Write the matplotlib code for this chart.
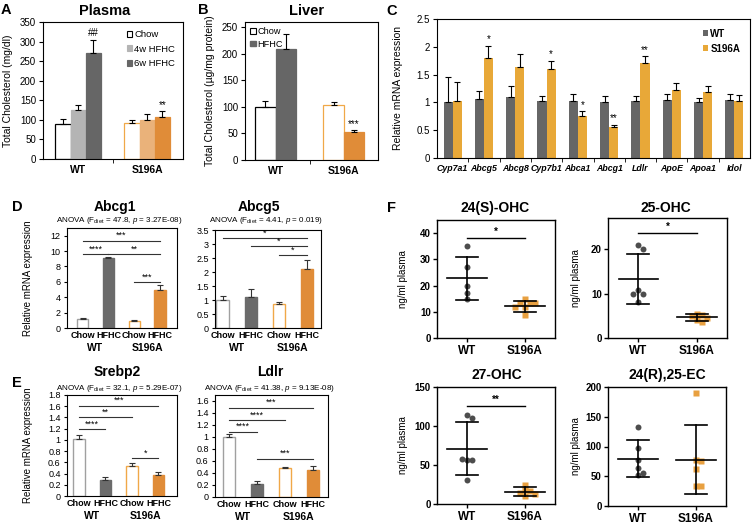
import numpy as np
import matplotlib
matplotlib.use("Agg")
import matplotlib.pyplot as plt
from matplotlib.patches import Patch
import matplotlib.transforms as mtransforms

plt.rcParams['font.family'] = ['Liberation Sans', 'DejaVu Sans']
plt.rcParams['mathtext.fontset'] = 'custom'
plt.rcParams['mathtext.rm'] = 'Liberation Sans'
plt.rcParams['mathtext.it'] = 'Liberation Sans:italic'
plt.rcParams['axes.linewidth'] = 0.8

W, H = 754, 524

# ---- A: plasma total cholesterol (mg/dl) ----
groups = ['WT', 'S196A']
plasma_diets = ['Chow', '4w HFHC', '6w HFHC']
plasma_wt = [90, 125, 272]
plasma_wt_err = [12, 14, 31]
plasma_s196a = [92, 100, 108]
plasma_s196a_err = [8, 14, 14]
plasma_marks_wt = ['', '', '##']
plasma_marks_s196a = ['', '', '**']

# ---- B: liver total cholesterol ----
liver_diets = ['Chow', 'HFHC']
liver_wt = [100, 210]
liver_wt_err = [11, 27]
liver_s196a = [104, 52]
liver_s196a_err = [5, 4]
liver_marks_s196a = ['', '***']

# ---- C: hepatic gene expression ----
genes = ['Cyp7a1', 'Abcg5', 'Abcg8', 'Cyp7b1', 'Abca1', 'Abcg1', 'Ldlr', 'ApoE', 'Apoa1', 'Idol']
gene_wt = [1.00, 1.07, 1.10, 1.02, 1.02, 1.01, 1.02, 1.05, 1.01, 1.04]
gene_wt_err = [0.46, 0.14, 0.20, 0.10, 0.13, 0.10, 0.10, 0.11, 0.07, 0.11]
gene_s196a = [1.03, 1.79, 1.63, 1.60, 0.76, 0.56, 1.70, 1.23, 1.18, 1.03]
gene_s196a_err = [0.33, 0.23, 0.24, 0.15, 0.08, 0.04, 0.13, 0.11, 0.11, 0.11]
gene_marks = ['', '*', '', '*', '*', '**', '**', '', '', '']

# ---- D/E: diet x genotype (Chow WT, HFHC WT, Chow S196A, HFHC S196A) ----
diet_labels = ['Chow', 'HFHC', 'Chow', 'HFHC']
abcg1_vals = [1.13, 9.08, 0.96, 4.98]
abcg1_err = [0.15, 0.15, 0.12, 0.6]
abcg1_sig = [(0, 3, 11.35, '***'), (0, 1, 9.6, '****'), (1, 3, 9.6, '**'), (2, 3, 6.0, '***')]
abcg5_vals = [1.01, 1.10, 0.87, 2.09]
abcg5_err = [0.12, 0.30, 0.06, 0.34]
abcg5_sig = [(0, 3, 3.2, '*'), (1, 3, 2.93, '*'), (2, 3, 2.59, '*')]
srebp2_vals = [1.01, 0.285, 0.535, 0.38]
srebp2_err = [0.08, 0.045, 0.045, 0.04]
srebp2_sig = [(0, 3, 1.61, '***'), (0, 2, 1.40, '**'), (0, 1, 1.19, '****'), (2, 3, 0.67, '*')]
ldlr_vals = [1.00, 0.22, 0.48, 0.45]
ldlr_err = [0.05, 0.04, 0.025, 0.06]
ldlr_sig = [(0, 3, 1.49, '***'), (0, 2, 1.28, '****'), (0, 1, 1.09, '****'), (1, 3, 0.64, '***')]

# ---- F: plasma oxysterols (ng/ml) ----
ohc24s_wt = [35, 27, 20, 15, 17]
ohc24s_s196a = [15, 13.5, 13.2, 13.2, 12, 12, 8.6]
ohc24s_mean = [22.8, 12.2]
ohc24s_sd = [8.2, 2.1]
ohc25_wt = [21, 20, 10.8, 10, 10, 8]
ohc25_s196a = [5.5, 5.2, 5.0, 4.5, 4.0, 3.5]
ohc25_mean = [13.3, 4.7]
ohc25_sd = [5.7, 0.8]
ohc27_wt = [114, 110, 57, 56, 58, 31]
ohc27_s196a = [25, 18, 17, 14, 13, 10]
ohc27_mean = [71, 16]
ohc27_sd = [33.5, 5.6]
ec24r_wt = [133, 98, 78, 64, 52, 55]
ec24r_s196a = [190, 78, 75, 63, 33, 33]
ec24r_mean = [79.5, 78]
ec24r_sd = [31, 58]

fig = plt.figure(figsize=(W / 100, H / 100), dpi=100)


def ax_px(l, t, r, b):
    return fig.add_axes([l / W, 1 - b / H, (r - l) / W, (b - t) / H])


def ftext(x, y, s, **kw):
    fig.text(x / W, 1 - y / H, s, ha='center', va='center', **kw)


def ylabel_at(ax, box, xpx, text, size):
    ax.set_ylabel(text, fontsize=size)
    ax.yaxis.set_label_coords((xpx - box[0]) / (box[2] - box[0]), 0.5)


def fmt(v):
    return '%g' % v


grey_dark = '#666666'
grey_light = '#b4b4b4'
orange = '#e08c38'
orange_light = '#eab27a'
orange_edge = '#f0a848'
ebar = dict(fmt='none', ecolor='black', elinewidth=0.8, capsize=2.2, capthick=0.8)

# ================= A =================
boxA = (43, 22, 183, 159)
ax = ax_px(*boxA)
w = 0.22
offs = np.array([-1, 0, 1]) * w
wt_faces = ['white', grey_light, grey_dark]
wt_edges = ['black', grey_light, grey_dark]
s_faces = ['white', orange_light, orange]
s_edges = [orange_edge, orange_light, orange]
ax.bar(0 + offs, plasma_wt, w, color=wt_faces, edgecolor=wt_edges, linewidth=0.9)
ax.bar(1 + offs, plasma_s196a, w, color=s_faces, edgecolor=s_edges, linewidth=0.9)
ax.errorbar(0 + offs, plasma_wt, yerr=[np.zeros(3), plasma_wt_err], **ebar)
ax.errorbar(1 + offs, plasma_s196a, yerr=[np.zeros(3), plasma_s196a_err], **ebar)
for i in range(3):
    ax.text(0 + offs[i], plasma_wt[i] + plasma_wt_err[i] + 6, plasma_marks_wt[i], ha='center', va='bottom', fontsize=7)
    ax.text(1 + offs[i], plasma_s196a[i] + plasma_s196a_err[i] + 4, plasma_marks_s196a[i], ha='center', va='bottom', fontsize=7)
ax.set_xlim(-0.51, 1.52)
ax.set_ylim(0, 350)
ax.set_yticks(range(0, 351, 50))
ax.set_xticks([0, 1])
ax.set_xticklabels(groups, fontsize=7.5, fontweight='bold')
ax.set_xticks([0.5], minor=True)
ax.tick_params(axis='x', which='major', length=0, pad=4)
ax.tick_params(axis='x', which='minor', length=3, direction='out')
ax.tick_params(axis='y', labelsize=7, length=3, pad=2)
handles = [Patch(facecolor=f, edgecolor=e, linewidth=0.8) for f, e in zip(wt_faces, wt_edges)]
ax.legend(handles, plasma_diets, loc='upper right', frameon=False, fontsize=6.8, handlelength=0.6,
          handleheight=0.6, handletextpad=0.2, labelspacing=0.6, borderaxespad=0.3, bbox_to_anchor=(0.99, 0.99))
ylabel_at(ax, boxA, 13, 'Total Cholesterol (mg/dl)', 7.5)
ftext(105, 11, 'Plasma', fontsize=10.5, fontweight='bold')
ftext(6, 10, 'A', fontsize=10.5, fontweight='bold')

# ================= B =================
boxB = (245, 22, 378, 160)
ax = ax_px(*boxB)
w = 0.3
offs = np.array([-0.5, 0.5]) * w
ax.bar(0 + offs, liver_wt, w, color=['white', grey_dark], edgecolor=['black', grey_dark], linewidth=0.9)
ax.bar(1 + offs, liver_s196a, w, color=['white', orange], edgecolor=[orange_edge, orange], linewidth=0.9)
ax.errorbar(0 + offs, liver_wt, yerr=[np.zeros(2), liver_wt_err], **ebar)
ax.errorbar(1 + offs, liver_s196a, yerr=[np.zeros(2), liver_s196a_err], **ebar)
for i in range(2):
    ax.text(1 + offs[i], liver_s196a[i] + liver_s196a_err[i] + 3, liver_marks_s196a[i], ha='center', va='bottom', fontsize=7)
ax.set_xlim(-0.45, 1.5)
ax.set_ylim(0, 260)
ax.set_yticks(range(0, 251, 50))
ax.set_xticks([0, 1])
ax.set_xticklabels(groups, fontsize=7.5, fontweight='bold')
ax.set_xticks([0.5], minor=True)
ax.tick_params(axis='x', which='major', length=0, pad=4)
ax.tick_params(axis='x', which='minor', length=3, direction='out')
ax.tick_params(axis='y', labelsize=7, length=3, pad=2)
handles = [Patch(facecolor='white', edgecolor='black', linewidth=0.8),
           Patch(facecolor=grey_dark, edgecolor=grey_dark)]
ax.legend(handles, liver_diets, loc='upper left', frameon=False, fontsize=6.6, handlelength=0.6,
          handleheight=0.6, handletextpad=0.2, labelspacing=0.4, borderaxespad=0.15)
ylabel_at(ax, boxB, 215, u'Total Cholesterol (\u00b5g/mg protein)', 7.5)
ftext(307, 11, 'Liver', fontsize=10.5, fontweight='bold')
ftext(203, 10, 'B', fontsize=10.5, fontweight='bold')

# ================= C =================
boxC = (437, 19, 750, 158)
ax = ax_px(*boxC)
x = np.arange(len(genes))
w = 0.29
c_orange = '#e8a838'
ax.bar(x - w / 2, gene_wt, w, color=grey_dark, label='WT')
ax.bar(x + w / 2, gene_s196a, w, color=c_orange, label='S196A')
ax.errorbar(x - w / 2, gene_wt, yerr=[np.zeros(len(x)), gene_wt_err], **ebar)
ax.errorbar(x + w / 2, gene_s196a, yerr=[np.zeros(len(x)), gene_s196a_err], **ebar)
for i in range(len(x)):
    ax.text(x[i] + w / 2, gene_s196a[i] + gene_s196a_err[i] + 0.03, gene_marks[i], ha='center', va='bottom', fontsize=7)
ax.set_xlim(-0.5, len(genes) - 0.5)
ax.set_ylim(0, 2.5)
ax.set_yticks(np.arange(0, 2.51, 0.5))
ax.set_yticklabels([fmt(v) for v in np.arange(0, 2.51, 0.5)])
ax.set_xticks(x)
ax.set_xticklabels(genes, fontsize=6.3, fontstyle='italic', fontweight='bold')
ax.set_xticks(x[:-1] + 0.5, minor=True)
ax.tick_params(axis='x', which='major', length=0, pad=4)
ax.tick_params(axis='x', which='minor', length=3, direction='out')
ax.tick_params(axis='y', labelsize=7, length=3, pad=2)
leg = ax.legend(loc='upper right', frameon=False, handlelength=0.6, handleheight=0.6, handletextpad=0.2,
                labelspacing=0.5, borderaxespad=0.6, prop={'size': 7, 'weight': 'bold'})
ylabel_at(ax, boxC, 403, 'Relative mRNA expression', 7.5)
ftext(392, 11, 'C', fontsize=10.5, fontweight='bold')

# ================= D / E =================
faces = ['white', '#6b6b6b', 'white', orange]
edges = ['#a0a0a0', '#6b6b6b', orange_edge, orange]


def expr_panel(box, vals, errs, sigs, ylim, yticks, xlim, title, title_xy, anova, anova_xy, ylabel=False):
    ax = ax_px(*box)
    xs = np.arange(4)
    ax.bar(xs, vals, 0.44, color=faces, edgecolor=edges, linewidth=1.0)
    ax.errorbar(xs, vals, yerr=[np.zeros(4), errs], fmt='none', ecolor='#333333', elinewidth=0.8,
                capsize=2.2, capthick=0.8)
    for i, j, yv, lab in sigs:
        ax.plot([xs[i], xs[j]], [yv, yv], color='#333333', lw=0.8)
        ax.text((xs[i] + xs[j]) / 2, yv + (ylim[1] * 0.005), lab, ha='center', va='bottom', fontsize=6.5)
    ax.set_xlim(*xlim)
    ax.set_ylim(*ylim)
    ax.set_yticks(yticks)
    ax.set_yticklabels([fmt(v) for v in yticks])
    ax.set_xticks(xs)
    ax.set_xticklabels(diet_labels, fontsize=6.5, fontweight='bold')
    ax.tick_params(axis='x', length=0, pad=2)
    ax.tick_params(axis='y', labelsize=6.5, length=2.5, pad=2)
    trans = mtransforms.blended_transform_factory(ax.transData, ax.transAxes)
    ax.text(0.5, -0.2, 'WT', transform=trans, ha='center', va='center', fontsize=7.5, fontweight='bold')
    ax.text(2.5, -0.2, 'S196A', transform=trans, ha='center', va='center', fontsize=7.5, fontweight='bold')
    if ylabel:
        ylabel_at(ax, box, 33, 'Relative mRNA expression', 7)
    ftext(title_xy[0], title_xy[1], title, fontsize=10, fontweight='bold')
    ftext(anova_xy[0], anova_xy[1], anova, fontsize=5.8)
    return ax


expr_panel((67, 228, 177, 328), abcg1_vals, abcg1_err, abcg1_sig, (0, 13), np.arange(0, 13, 2),
           (-0.6, 3.65), 'Abcg1', (115, 207), r'ANOVA (F$_{\rm diet}$ = 47.8, $p$ = 3.27E-08)', (119, 221), ylabel=True)
expr_panel((215, 230, 321, 328), abcg5_vals, abcg5_err, abcg5_sig, (0, 3.5), np.arange(0, 3.51, 0.5),
           (-0.27, 3.5), 'Abcg5', (259, 207), r'ANOVA (F$_{\rm diet}$ = 4.41, $p$ = 0.019)', (266, 221))
expr_panel((67, 395, 177, 496), srebp2_vals, srebp2_err, srebp2_sig, (0, 1.8), np.arange(0, 1.81, 0.2),
           (-0.45, 3.7), 'Srebp2', (117, 372), r'ANOVA (F$_{\rm diet}$ = 32.1, $p$ = 5.29E-07)', (119, 388), ylabel=True)
expr_panel((215, 395, 328, 497), ldlr_vals, ldlr_err, ldlr_sig, (0, 1.7), np.arange(0, 1.61, 0.2),
           (-0.5, 3.55), 'Ldlr', (270, 372), r'ANOVA (F$_{\rm diet}$ = 41.38, $p$ = 9.13E-08)', (269, 388))
ftext(17, 207, 'D', fontsize=10.5, fontweight='bold')
ftext(17, 383, 'E', fontsize=10.5, fontweight='bold')


# ================= F =================
def swarm(vals, yspan, hpx, step=5.0, diam=5.0):
    placed = []
    out = []
    for v in vals:
        y = v * hpx / yspan
        for c in [0, 1, -1, 2, -2, 3, -3]:
            xo = c * step
            if all((xo - px) ** 2 + (y - py) ** 2 >= diam ** 2 for px, py in placed):
                break
        placed.append((xo, y))
        out.append(xo)
    return np.array(out)


def scatter_panel(box, wt, s196a, mean, sd, ylim, yticks, stars, star_y, title, title_xy, ylab_x):
    ax = ax_px(*box)
    hpx = box[3] - box[1]
    unit = 58.0
    for k, (pts, mk, col) in enumerate([(wt, 'o', '#4d4d4d'), (s196a, 's', '#e8a040')]):
        dx = swarm(pts, ylim[1], hpx) / unit
        ax.plot(k + dx, pts, mk, color=col, ms=4.3, mec='none', zorder=2)
        ax.plot([k - 0.34, k + 0.34], [mean[k], mean[k]], color='black', lw=1.2, zorder=3)
        ax.plot([k, k], [mean[k] - sd[k], mean[k] + sd[k]], color='black', lw=1.2, zorder=3)
        for yv in (mean[k] - sd[k], mean[k] + sd[k]):
            ax.plot([k - 0.19, k + 0.19], [yv, yv], color='black', lw=1.2, zorder=3)
    if stars:
        ax.plot([0, 1], [star_y, star_y], color='black', lw=1.0)
        ax.text(0.5, star_y + ylim[1] * 0.01, stars, ha='center', va='bottom', fontsize=7, fontweight='bold')
    ax.set_xlim(-0.52, 1.52)
    ax.set_ylim(*ylim)
    ax.set_yticks(yticks)
    ax.set_xticks([0, 1])
    ax.set_xticklabels(groups, fontsize=8.5, fontweight='bold')
    for t in ax.get_yticklabels():
        t.set_fontweight('bold')
    ax.tick_params(axis='y', labelsize=7, length=3, width=1, pad=1.5)
    ax.tick_params(axis='x', length=3, width=1, pad=2)
    for s in ax.spines.values():
        s.set_linewidth(1.0)
    ylabel_at(ax, box, ylab_x, 'ng/ml plasma', 7)
    ftext(title_xy[0], title_xy[1], title, fontsize=10, fontweight='bold')
    return ax


scatter_panel((437, 220, 555, 338), ohc24s_wt, ohc24s_s196a, ohc24s_mean, ohc24s_sd, (0, 45),
              [0, 10, 20, 30, 40], '*', 38.3, '24(S)-OHC', (495, 208), 408)
scatter_panel((608, 218, 727, 338), ohc25_wt, ohc25_s196a, ohc25_mean, ohc25_sd, (0, 27),
              [0, 10, 20], '*', 23.6, '25-OHC', (666, 208), 581)
scatter_panel((437, 387, 555, 504), ohc27_wt, ohc27_s196a, ohc27_mean, ohc27_sd, (0, 150),
              [0, 50, 100, 150], '**', 125.7, '27-OHC', (497, 375), 408)
scatter_panel((608, 387, 726, 506), ec24r_wt, ec24r_s196a, ec24r_mean, ec24r_sd, (0, 200),
              [0, 50, 100, 150, 200], '', 0, '24(R),25-EC', (667, 375), 581)
ftext(392, 208, 'F', fontsize=10.5, fontweight='bold')

fig.savefig('out.png', dpi=100)
